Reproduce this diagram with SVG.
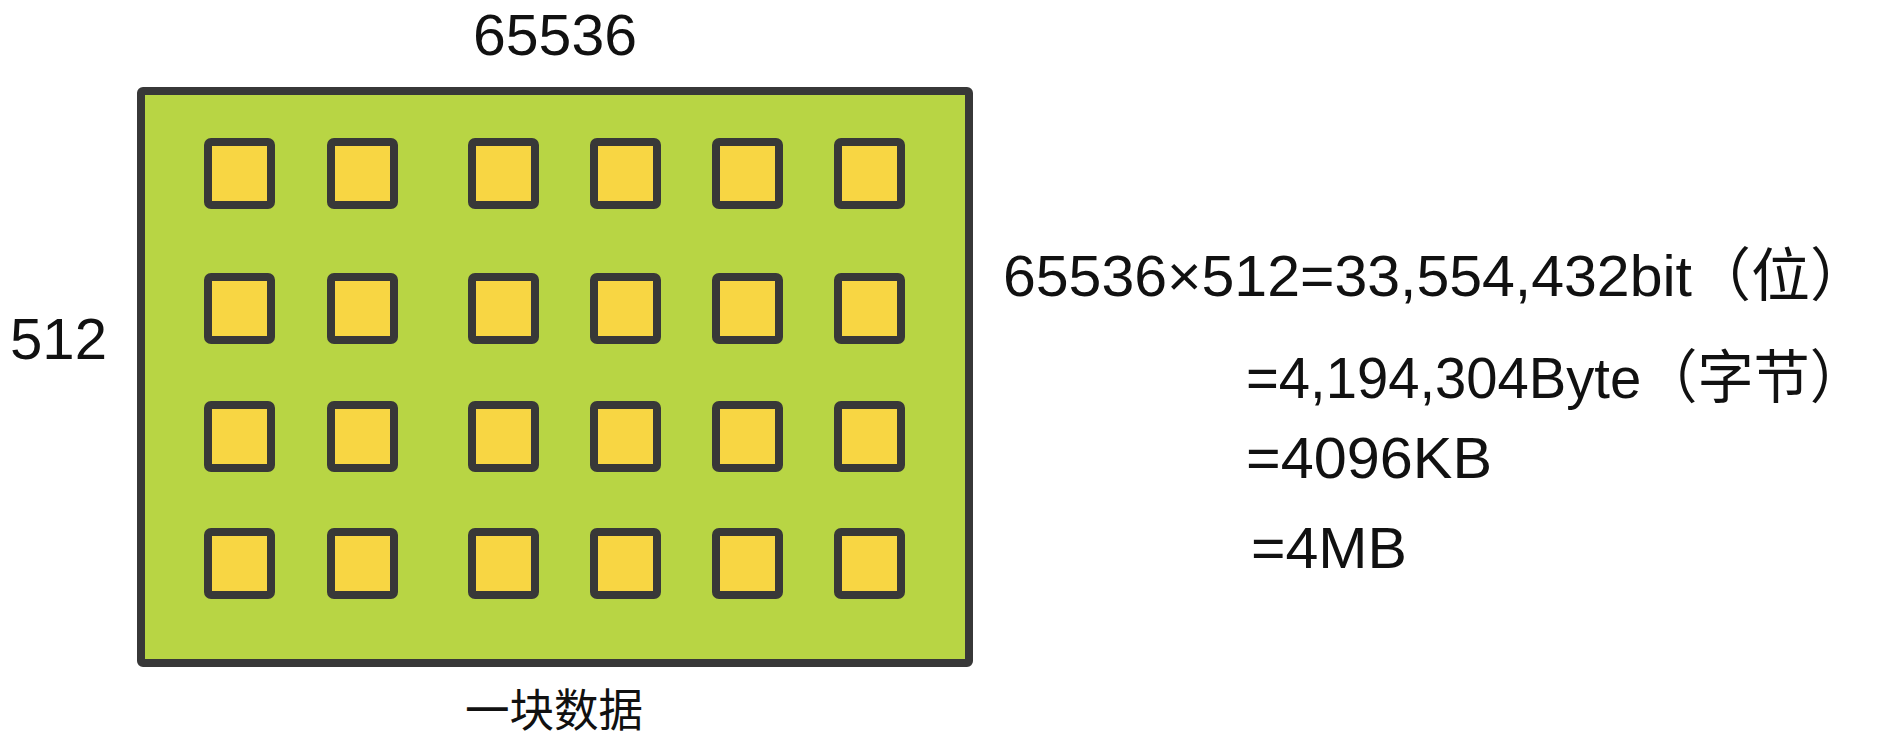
<svg xmlns="http://www.w3.org/2000/svg" width="1882" height="748" viewBox="0 0 1882 748">
  <style>
    .t { font-family: "Liberation Sans", "Noto Sans CJK SC", sans-serif; fill: #111; }
    .cell { fill: #f8d643; stroke: #383838; stroke-width: 8; }
    .block { fill: #b8d544; stroke: #383838; stroke-width: 8; }
  </style>
  <defs>
    <rect id="cell" x="0" y="0" width="63" height="63" rx="3" class="cell"/>
  </defs>
  <rect width="1882" height="748" fill="#ffffff"/>

  <g id="block">
    <rect x="141" y="91" width="828" height="572" rx="2" class="block"/>
    <g id="cells">
      <use href="#cell" x="208" y="142"/>
      <use href="#cell" x="331" y="142"/>
      <use href="#cell" x="472" y="142"/>
      <use href="#cell" x="594" y="142"/>
      <use href="#cell" x="716" y="142"/>
      <use href="#cell" x="838" y="142"/>

      <use href="#cell" x="208" y="277"/>
      <use href="#cell" x="331" y="277"/>
      <use href="#cell" x="472" y="277"/>
      <use href="#cell" x="594" y="277"/>
      <use href="#cell" x="716" y="277"/>
      <use href="#cell" x="838" y="277"/>

      <use href="#cell" x="208" y="405"/>
      <use href="#cell" x="331" y="405"/>
      <use href="#cell" x="472" y="405"/>
      <use href="#cell" x="594" y="405"/>
      <use href="#cell" x="716" y="405"/>
      <use href="#cell" x="838" y="405"/>

      <use href="#cell" x="208" y="532"/>
      <use href="#cell" x="331" y="532"/>
      <use href="#cell" x="472" y="532"/>
      <use href="#cell" x="594" y="532"/>
      <use href="#cell" x="716" y="532"/>
      <use href="#cell" x="838" y="532"/>
    </g>
  </g>

  <g id="labels">
    <text id="label-width" class="t" x="473" y="55" font-size="58" textLength="164" lengthAdjust="spacingAndGlyphs">65536</text>
    <text id="label-height" class="t" x="10" y="359" font-size="58" textLength="97" lengthAdjust="spacingAndGlyphs">512</text>
    <text id="label-block" class="t" x="465" y="727" font-size="45" textLength="178" lengthAdjust="spacingAndGlyphs">一块数据</text>
  </g>

  <g id="calc">
    <text class="t" x="1003" y="296" font-size="58" textLength="866" lengthAdjust="spacingAndGlyphs">65536×512=33,554,432bit（位）</text>
    <text class="t" x="1246" y="398" font-size="58" textLength="620" lengthAdjust="spacingAndGlyphs">=4,194,304Byte（字节）</text>
    <text class="t" x="1246" y="478" font-size="58" textLength="246" lengthAdjust="spacingAndGlyphs">=4096KB</text>
    <text class="t" x="1251" y="568" font-size="58" textLength="156" lengthAdjust="spacingAndGlyphs">=4MB</text>
  </g>
</svg>
